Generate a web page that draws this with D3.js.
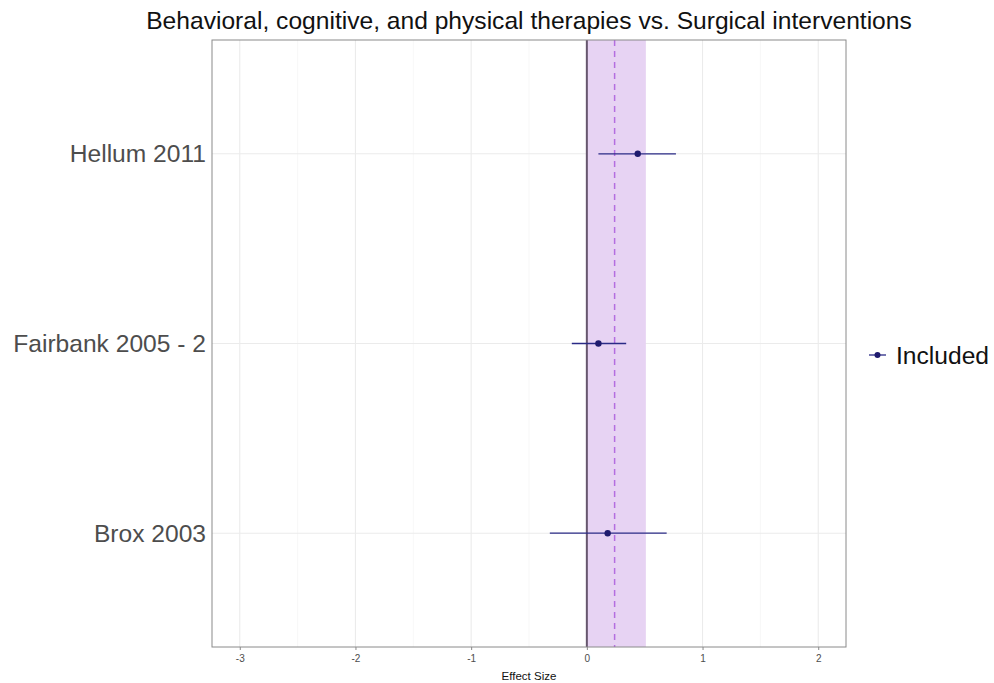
<!DOCTYPE html>
<html>
<head>
<meta charset="utf-8">
<script src="https://cdn.jsdelivr.net/npm/d3@7"></script>
<style>
  body { margin: 0; background: #fff; }
  text { font-family: "Liberation Sans", Arial, sans-serif; }
</style>
</head>
<body>
<svg id="chart" width="994" height="683"></svg>
<script>
// data
var studies = ["Hellum 2011", "Fairbank 2005 - 2", "Brox 2003"]
var estimate = [0.44, 0.10, 0.18]
var lower = [0.10, -0.13, -0.32]
var upper = [0.77, 0.34, 0.69]
var pooled = 0.24
var pooledLow = 0
var pooledHigh = 0.51
var xTicks = [-3, -2, -1, 0, 1, 2]
var xMinor = [-2.5, -1.5, -0.5, 0.5, 1.5]

var svg = d3.select('svg#chart')
var margin = {left: 212, right: 148, top: 40, bottom: 36}
var width = 994, height = 683

var x = d3.scaleLinear()
    .domain([-3.24, 2.24])
    .range([margin.left, width - margin.right])
var y = d3.scalePoint()
    .domain(studies)
    .range([margin.top, height - margin.bottom])
    .padding(0.6)

// grid
svg.append("g").selectAll("line").data(xMinor).enter().append("line")
    .attr("x1", d => x(d)).attr("x2", d => x(d))
    .attr("y1", margin.top).attr("y2", height - margin.bottom)
    .attr("stroke", "#f2f2f2").attr("stroke-width", 0.6)
svg.append("g").selectAll("line").data(xTicks).enter().append("line")
    .attr("x1", d => x(d)).attr("x2", d => x(d))
    .attr("y1", margin.top).attr("y2", height - margin.bottom)
    .attr("stroke", "#ebebeb").attr("stroke-width", 1.1)
svg.append("g").selectAll("line").data(studies).enter().append("line")
    .attr("x1", margin.left).attr("x2", width - margin.right)
    .attr("y1", d => y(d)).attr("y2", d => y(d))
    .attr("stroke", "#ebebeb").attr("stroke-width", 1.1)

// pooled band + dashed estimate
svg.append("rect")
    .attr("x", x(pooledLow)).attr("width", x(pooledHigh) - x(pooledLow))
    .attr("y", margin.top).attr("height", height - margin.bottom - margin.top)
    .attr("fill", "#e7d3f3")
svg.append("line")
    .attr("x1", x(pooled)).attr("x2", x(pooled))
    .attr("y1", margin.top).attr("y2", height - margin.bottom)
    .attr("stroke", "#b46ee0").attr("stroke-width", 1.5)
    .attr("stroke-dasharray", "6,5")
svg.append("line")
    .attr("x1", x(0)).attr("x2", x(0))
    .attr("y1", margin.top).attr("y2", height - margin.bottom)
    .attr("stroke", "#66566e").attr("stroke-width", 2)

// study CIs and points
var g = svg.append("g")
g.selectAll("line").data(studies).enter().append("line")
    .attr("x1", (d, i) => x(lower[i])).attr("x2", (d, i) => x(upper[i]))
    .attr("y1", d => y(d)).attr("y2", d => y(d))
    .attr("stroke", "#2a2a86").attr("stroke-width", 1.3)
g.selectAll("circle").data(studies).enter().append("circle")
    .attr("cx", (d, i) => x(estimate[i])).attr("cy", d => y(d))
    .attr("r", 3.2).attr("fill", "#1f1b6e")

// panel border
svg.append("rect")
    .attr("x", margin.left).attr("y", margin.top)
    .attr("width", width - margin.right - margin.left)
    .attr("height", height - margin.bottom - margin.top)
    .attr("fill", "none").attr("stroke", "#8a8a8a").attr("stroke-width", 1)

// x axis
var xAxis = svg.append("g")
    .attr("transform", `translate(0,${height - margin.bottom})`)
    .call(d3.axisBottom(x).tickValues(xTicks).tickSize(3).tickSizeOuter(0)
      .tickFormat(d => String(d)))
xAxis.select(".domain").remove()
xAxis.selectAll(".tick line").attr("stroke", "#8a8a8a")
xAxis.selectAll(".tick text").attr("fill", "#4d4d4d").style("font-size", "10px").attr("dy", "0.9em")
svg.append("text")
    .attr("x", (margin.left + width - margin.right) / 2).attr("y", 680)
    .attr("text-anchor", "middle").style("font-size", "11.5px").attr("fill", "#111")
    .text("Effect Size")

// y labels
svg.append("g").selectAll("text").data(studies).enter().append("text")
    .attr("x", margin.left - 6).attr("y", d => y(d)).attr("dy", "0.35em")
    .attr("text-anchor", "end").style("font-size", "24.6px").attr("fill", "#4d4d4d")
    .text(d => d)

// title
svg.append("text")
    .attr("x", (margin.left + width - margin.right) / 2).attr("y", 29)
    .attr("text-anchor", "middle").style("font-size", "24.6px").attr("fill", "#111")
    .text("Behavioral, cognitive, and physical therapies vs. Surgical interventions")

// legend
var leg = svg.append("g").attr("transform", "translate(869,355)")
leg.append("line").attr("x1", 0).attr("x2", 17).attr("stroke", "#2a2a86").attr("stroke-width", 1.3)
leg.append("circle").attr("cx", 8.5).attr("r", 3).attr("fill", "#1f1b6e")
leg.append("text").attr("x", 27).attr("dy", "0.35em").style("font-size", "24.6px").attr("fill", "#111")
    .text("Included")
</script>
</body>
</html>
